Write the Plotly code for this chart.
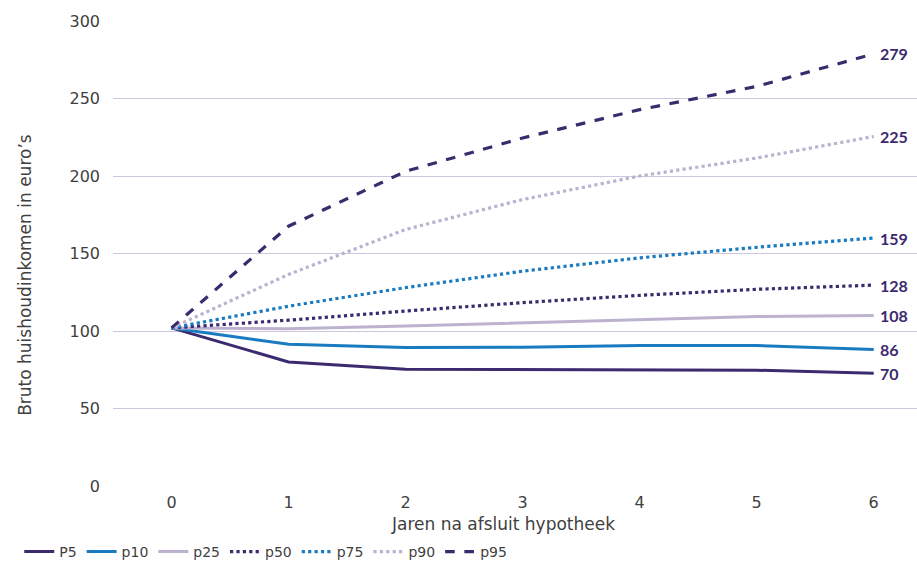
import plotly.graph_objects as go

years = [0, 1, 2, 3, 4, 5, 6]
series_names = ["P5", "p10", "p25", "p50", "p75", "p90", "p95"]
p5 = [102, 80, 75.3, 75, 74.9, 74.7, 72.7]
p10 = [102, 91.4, 89.3, 89.5, 90.6, 90.6, 88]
p25 = [102, 101.5, 103.2, 105.2, 107.5, 109.3, 110]
p50 = [102, 107, 112.9, 118.3, 123, 126.9, 129.6]
p75 = [102, 116, 128, 138.6, 147.2, 154, 160]
p90 = [102, 136.5, 165.5, 184.8, 200, 211.6, 225.5]
p95 = [102, 167.6, 203, 224.5, 242.8, 257.8, 278.8]
end_labels = ["70", "86", "108", "128", "159", "225", "279"]
y_ticks = [0, 50, 100, 150, 200, 250, 300]
x_title = "Jaren na afsluit hypotheek"
y_title = "Bruto huishoudinkomen in euro’s"

dark = "#3b2a6d"
blue = "#1a7bc1"
light = "#bcb2d0"
text_col = "#3f3f3f"
base_font = "DejaVu Sans, sans-serif"

values = [p5, p10, p25, p50, p75, p90, p95]
colors = [dark, blue, light, dark, blue, light, dark]
dashes = ["solid", "solid", "solid", "dot", "dot", "dot", "dash"]

fig = go.Figure()
for name, vals, c, d in zip(series_names, values, colors, dashes):
    fig.add_trace(go.Scatter(
        x=years, y=vals, name=name, mode="lines",
        line=dict(color=c, width=3.2 if d != "solid" else 3, dash=d),
    ))

for vals, lab in zip(values, end_labels):
    fig.add_annotation(
        x=years[-1], y=vals[-1], text=f"<b>{lab}</b>", showarrow=False,
        xanchor="left", yanchor="middle", xshift=4,
        font=dict(family="Lato, sans-serif", size=16, color=dark),
    )

# axis titles as annotations (positioned like the reference)
fig.add_annotation(
    xref="paper", yref="paper", x=0.485, y=-0.082, text=x_title,
    showarrow=False, xanchor="center", yanchor="middle",
    font=dict(family=base_font, size=17, color=text_col),
)
fig.add_annotation(
    xref="paper", yref="paper", x=-0.1095, y=0.454, text=y_title,
    showarrow=False, xanchor="center", yanchor="middle", textangle=-90,
    font=dict(family=base_font, size=17, color=text_col),
)

fig.update_layout(
    width=917, height=565,
    margin=dict(l=113, r=0, t=21, b=79),
    paper_bgcolor="white", plot_bgcolor="white",
    font=dict(family=base_font, size=15, color=text_col),
    showlegend=True,
    legend=dict(
        orientation="h", xref="container", yref="container",
        x=0.021, y=0.023, xanchor="left", yanchor="middle",
        font=dict(family=base_font, size=14, color=text_col),
        itemwidth=30, tracegroupgap=0,
    ),
    xaxis=dict(
        range=[-0.5, 6.37], tickmode="array", tickvals=years,
        ticktext=[str(y) for y in years],
        showgrid=False, zeroline=False, showline=False, ticks="",
        tickfont=dict(size=16), ticklabelstandoff=5,
    ),
    yaxis=dict(
        range=[0, 300], tickmode="array", tickvals=y_ticks,
        showgrid=True, gridcolor="#cdc6df", gridwidth=1.3,
        zeroline=False, showline=False, ticks="",
        ticklabelstandoff=12, tickfont=dict(size=16),
    ),
)

fig.write_html("out.html")
